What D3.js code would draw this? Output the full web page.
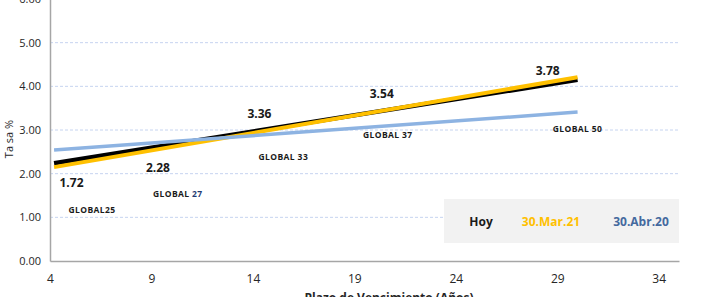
<!DOCTYPE html>
<html>
<head>
<meta charset="utf-8">
<script src="https://cdn.jsdelivr.net/npm/d3@7"></script>
<style>
  body { margin: 0; background: #fff; }
  svg { display: block; font-family: "Open Sans", "Noto Sans", sans-serif; }
</style>
</head>
<body>
<div class="chart"></div>
<script>
// --- data
const yTicks = [0, 1, 2, 3, 4, 5, 6];
const xTicks = [4, 9, 14, 19, 24, 29, 34];

// trend lines: start / end points [plazo, tasa]
const hoyLine   = [[4.2, 2.24], [30.0, 4.15]];
const mar21Line = [[4.2, 2.15], [30.0, 4.21]];
const abr20Line = [[4.2, 2.54], [30.0, 3.41]];

// value labels of today's curve
const valueLabels = ["1.72", "2.28", "3.36", "3.54", "3.78"];
const valueX      = [5.06, 9.32, 14.32, 20.35, 28.53];
const valueY      = [1.79, 2.13, 3.36, 3.82, 4.35];

// bond names
const bondNames = ["GLOBAL25", "GLOBAL 27", "GLOBAL 33", "GLOBAL 37", "GLOBAL 50"];
const bondX     = [6.07, 10.3, 15.5, 20.65, 30.0];
const bondY     = [1.17, 1.53, 2.38, 2.88, 3.02];

const legendNames = ["Hoy", "30.Mar.21", "30.Abr.20"];

// --- layout
const width = 723, height = 297;
const x = d3.scaleLinear().domain([4, 35]).range([50, 679]);
const y = d3.scaleLinear().domain([0, 6]).range([261, -1]);

const svg = d3.select(".chart").append("svg")
    .attr("width", width)
    .attr("height", height);

// GRID
svg.append("g")
    .selectAll("line")
    .data(yTicks.filter(d => d > 0))
    .enter().append("line")
    .attr("x1", x(4)).attr("x2", x(35))
    .attr("y1", d => y(d)).attr("y2", d => y(d))
    .attr("stroke", "#c6d4f0")
    .attr("stroke-dasharray", "3,2");

// Y AXIS
const yAxis = svg.append("g")
    .attr("transform", "translate(" + x(4) + ",0)")
    .call(d3.axisLeft(y).tickValues(yTicks).tickFormat(d3.format(".2f")).tickSize(0).tickPadding(9));
yAxis.select(".domain").attr("stroke", "#a6a6a6").attr("stroke-width", 1.5);
yAxis.selectAll("text").attr("font-size", "11px").attr("fill", "#262626")
    .attr("font-family", "'Open Sans', sans-serif");

// X AXIS
const xAxis = svg.append("g")
    .attr("transform", "translate(0," + y(0) + ")")
    .call(d3.axisBottom(x).tickValues(xTicks).tickSize(0).tickPadding(13));
xAxis.select(".domain").attr("stroke", "#a6a6a6").attr("stroke-width", 1.5);
xAxis.selectAll("text").attr("font-size", "12px").attr("fill", "#262626")
    .attr("font-family", "'Open Sans', sans-serif");

// AXIS TITLES
svg.append("text")
    .attr("transform", "translate(13,139) rotate(-90)")
    .attr("text-anchor", "middle")
    .attr("font-size", "11px")
    .attr("fill", "#262626")
    .text("Ta sa %");

svg.append("text")
    .attr("x", 389).attr("y", 302)
    .attr("text-anchor", "middle")
    .attr("font-size", "12px")
    .attr("font-weight", "bold")
    .attr("fill", "#262626")
    .text("Plazo de Vencimiento  (Años)");

// LINES
const line = d3.line().x(d => x(d[0])).y(d => y(d[1]));
const series = [
    { data: hoyLine,   color: "#000000", w: 4.5 },
    { data: mar21Line, color: "#ffc000", w: 4 },
    { data: abr20Line, color: "#8db3e2", w: 3.5 }
];
svg.append("g").selectAll("path")
    .data(series)
    .enter().append("path")
    .attr("d", d => line(d.data))
    .attr("fill", "none")
    .attr("stroke", d => d.color)
    .attr("stroke-width", d => d.w);

// VALUE LABELS
svg.append("g").selectAll("text")
    .data(valueLabels)
    .enter().append("text")
    .attr("x", (d, i) => x(valueX[i]))
    .attr("y", (d, i) => y(valueY[i]))
    .attr("dy", "0.35em")
    .attr("text-anchor", "middle")
    .attr("font-size", "12px")
    .attr("font-weight", "bold")
    .attr("fill", "#1a1a1a")
    .text(d => d);

// BOND NAMES
const bonds = svg.append("g").selectAll("text")
    .data(bondNames)
    .enter().append("text")
    .attr("x", (d, i) => x(bondX[i]))
    .attr("y", (d, i) => y(bondY[i]))
    .attr("dy", "0.35em")
    .attr("text-anchor", "middle")
    .attr("font-size", "8.5px")
    .attr("letter-spacing", "0.4px")
    .attr("font-weight", "bold")
    .attr("fill", "#1a1a1a");
bonds.each(function(d) {
    const t = d3.select(this);
    if (d === "GLOBAL 27") {
        t.append("tspan").text("GLOBAL ");
        t.append("tspan").attr("fill", "#1f3b73").text("27");
    } else {
        t.text(d);
    }
});

// LEGEND
const legend = svg.append("g").attr("class", "legend");
legend.append("rect")
    .attr("x", 444).attr("y", 199)
    .attr("width", 235).attr("height", 44)
    .attr("fill", "#f2f2f2");
const legendX = [481, 551, 641];
const legendColors = ["#1a1a1a", "#ffc000", "#44699e"];
legend.selectAll("text")
    .data(legendNames)
    .enter().append("text")
    .attr("x", (d, i) => legendX[i])
    .attr("y", 226)
    .attr("text-anchor", "middle")
    .attr("font-size", "12px")
    .attr("font-weight", "bold")
    .attr("fill", (d, i) => legendColors[i])
    .text(d => d);
</script>
</body>
</html>
